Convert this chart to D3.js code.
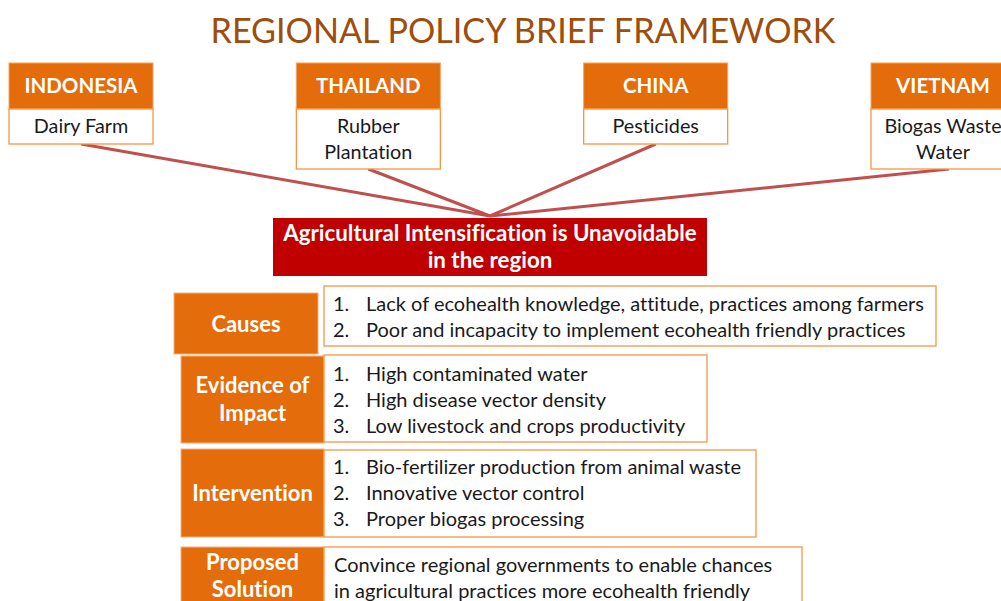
<!DOCTYPE html>
<html><head><meta charset="utf-8">
<script src="https://cdn.jsdelivr.net/npm/d3@7/dist/d3.min.js"></script>
<style>body{margin:0;background:#fff}svg{display:block}text{font-family:Lato,"Open Sans",sans-serif;font-variant-ligatures:none;font-feature-settings:"liga" 0,"clig" 0}</style>
</head><body><svg id="c" width="1001" height="601"></svg>
<script>
const title = "REGIONAL POLICY BRIEF FRAMEWORK";
const countries = ["INDONESIA", "THAILAND", "CHINA", "VIETNAM"];
const topics = [["Dairy Farm"], ["Rubber", "Plantation"], ["Pesticides"], ["Biogas Waste", "Water"]];
const centralIssue = ["Agricultural Intensification is Unavoidable", "in the region"];
const categories = [["Causes"], ["Evidence of", "Impact"], ["Intervention"], ["Proposed", "Solution"]];
const numbered = [true, true, true, false];
const items = [
  ["Lack of ecohealth knowledge, attitude, practices among farmers",
   "Poor and incapacity to implement ecohealth friendly practices"],
  ["High contaminated water", "High disease vector density", "Low livestock and crops productivity"],
  ["Bio-fertilizer production from animal waste", "Innovative vector control", "Proper biogas processing"],
  ["Convince regional governments to enable chances", "in agricultural practices more ecohealth friendly"]
];

const svg = d3.select("#c");
const ORANGE = "#E46C0A", RED = "#C00000", LINE = "#C0504D", BORDER = "#F79646";

// title
svg.append("text").attr("x", 523).attr("y", 43).attr("text-anchor", "middle")
  .attr("font-size", 35).attr("fill", "#9E4D0C").attr("textLength", 625).attr("lengthAdjust", "spacingAndGlyphs")
  .text(title);

// countries
const x = d3.scalePoint().domain(countries).range([81, 943]);
const boxW = 144, hubX = 490, hubY = 216;
const subH = i => topics[i].length > 1 ? 60 : 35;

// connector lines
const line = d3.line();
svg.append("g").selectAll("path").data(countries).join("path")
  .attr("d", (c, i) => line([[x(c) + (i === 3 ? 6 : 0), 109 + subH(i)], [hubX, hubY]]))
  .attr("stroke", LINE).attr("stroke-width", 3).attr("fill", "none");

const cg = svg.append("g").selectAll("g").data(countries).join("g")
  .attr("transform", c => `translate(${x(c) - boxW / 2},63)`);
cg.append("rect").attr("width", boxW).attr("height", 46).attr("fill", ORANGE).attr("stroke", "#F4A460").attr("stroke-width", 1);
cg.append("text").attr("x", boxW / 2).attr("y", 30).attr("text-anchor", "middle")
  .attr("font-size", 20.5).attr("font-weight", "bold").attr("fill", "#fff").text(c => c);
cg.append("rect").attr("y", 46).attr("width", boxW).attr("height", (c, i) => subH(i))
  .attr("fill", "#fff").attr("stroke", BORDER).attr("stroke-width", 1.3);
cg.each(function (c, i) {
  d3.select(this).selectAll("text.sub").data(topics[i]).join("text").attr("class", "sub")
    .attr("x", boxW / 2).attr("y", (t, j) => 70 + j * 26).attr("text-anchor", "middle")
    .attr("font-size", 19.8).attr("fill", "#1a1a1a").text(t => t);
});

// central red box
svg.append("rect").attr("x", 273).attr("y", 218).attr("width", 434).attr("height", 58).attr("fill", RED);
svg.append("g").selectAll("text").data(centralIssue).join("text")
  .attr("x", hubX).attr("y", (t, j) => 241 + j * 27).attr("text-anchor", "middle")
  .attr("font-size", 22.3).attr("font-weight", "bold").attr("fill", "#fff").text(t => t);

// rows
const rows = [
  {lx: 174, ly: 293, lw: 144, lh: 61, bx: 324, by: 286, bw: 612, bh: 60},
  {lx: 181, ly: 356, lw: 143, lh: 87, bx: 324, by: 355, bw: 383, bh: 87},
  {lx: 181, ly: 449, lw: 143, lh: 88, bx: 324, by: 450, bw: 432, bh: 87},
  {lx: 181, ly: 547, lw: 143, lh: 70, bx: 324, by: 547, bw: 478, bh: 70}
];
const labelBase = [[332], [393, 421], [501], [570, 597]];
const itemBase = [311, 381, 474, 572];

const rg = svg.append("g").selectAll("g").data(categories).join("g");
rg.each(function (cat, i) {
  const g = d3.select(this), r = rows[i];
  g.append("rect").attr("x", r.lx).attr("y", r.ly).attr("width", r.lw).attr("height", r.lh)
    .attr("fill", ORANGE).attr("stroke", "#F4B183").attr("stroke-width", 1);
  g.append("rect").attr("x", r.bx).attr("y", r.by).attr("width", r.bw).attr("height", r.bh)
    .attr("fill", "#fff").attr("stroke", BORDER).attr("stroke-width", 1.3);
  g.selectAll("text.lab").data(cat).join("text").attr("class", "lab")
    .attr("x", r.lx + r.lw / 2).attr("y", (t, j) => labelBase[i][j]).attr("text-anchor", "middle")
    .attr("font-size", 22).attr("font-weight", "bold").attr("fill", "#fff").text(t => t);
  const it = g.selectAll("g.item").data(items[i]).join("g").attr("class", "item");
  const fs = 20;
  if (numbered[i]) {
    it.append("text").attr("x", 333).attr("y", (t, j) => itemBase[i] + j * 26)
      .attr("font-size", fs).attr("fill", "#1a1a1a").text((t, j) => (j + 1) + ".");
    it.append("text").attr("x", 366).attr("y", (t, j) => itemBase[i] + j * 26)
      .attr("font-size", fs).attr("fill", "#1a1a1a").text(t => t);
  } else {
    it.append("text").attr("x", 334).attr("y", (t, j) => itemBase[i] + j * 26)
      .attr("font-size", fs).attr("fill", "#1a1a1a").text(t => t);
  }
});
</script></body></html>
